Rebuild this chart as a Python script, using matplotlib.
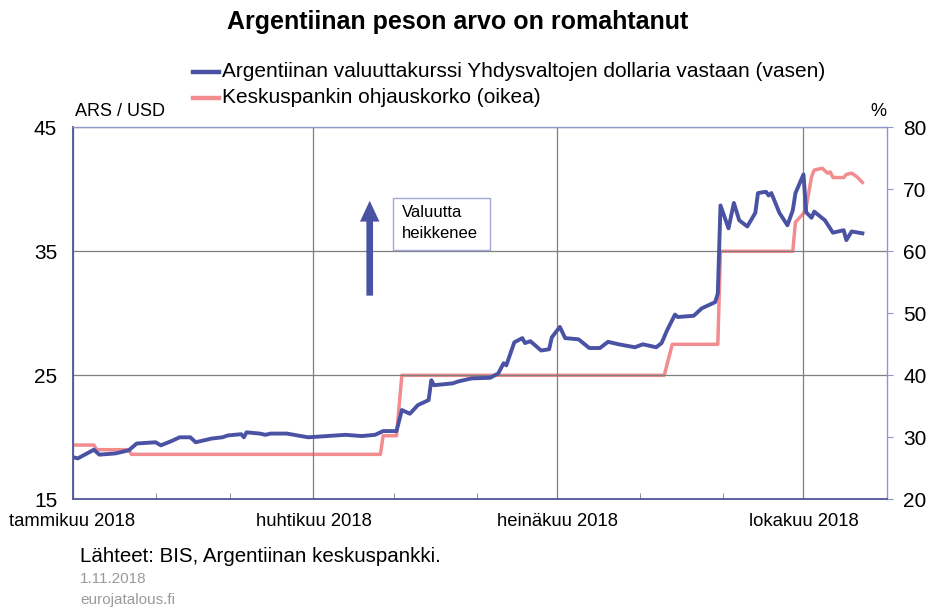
import matplotlib
matplotlib.use("Agg")
import matplotlib.pyplot as plt
import matplotlib.dates as mdates
from matplotlib.patches import Rectangle
from matplotlib.lines import Line2D
import pandas as pd

plt.rcParams['font.family'] = ['Liberation Sans', 'DejaVu Sans']

# ---- data ----
fx_dates = ["2018-01-01", "2018-01-03", "2018-01-09", "2018-01-11", "2018-01-17", "2018-01-22",
            "2018-01-25", "2018-02-01", "2018-02-03", "2018-02-07", "2018-02-10", "2018-02-14",
            "2018-02-16", "2018-02-22", "2018-02-26", "2018-02-28", "2018-03-05", "2018-03-06",
            "2018-03-07", "2018-03-12", "2018-03-14", "2018-03-16", "2018-03-22", "2018-03-30",
            "2018-04-06", "2018-04-13", "2018-04-19", "2018-04-24", "2018-04-27", "2018-05-02",
            "2018-05-04", "2018-05-07", "2018-05-10", "2018-05-14", "2018-05-15", "2018-05-16",
            "2018-05-23", "2018-05-25", "2018-05-30", "2018-06-06", "2018-06-09", "2018-06-11",
            "2018-06-12", "2018-06-15", "2018-06-18", "2018-06-19", "2018-06-21", "2018-06-25",
            "2018-06-28", "2018-06-29", "2018-07-02", "2018-07-04", "2018-07-09", "2018-07-13",
            "2018-07-17", "2018-07-20", "2018-07-24", "2018-07-30", "2018-08-02", "2018-08-07",
            "2018-08-09", "2018-08-11", "2018-08-14", "2018-08-15", "2018-08-21", "2018-08-24",
            "2018-08-29", "2018-08-30", "2018-08-31", "2018-09-03", "2018-09-05", "2018-09-07",
            "2018-09-10", "2018-09-13", "2018-09-14", "2018-09-17", "2018-09-18", "2018-09-19",
            "2018-09-22", "2018-09-25", "2018-09-27", "2018-09-28", "2018-10-01", "2018-10-02",
            "2018-10-04", "2018-10-05", "2018-10-09", "2018-10-12", "2018-10-16", "2018-10-17",
            "2018-10-19", "2018-10-23"]
fx_values = [18.4, 18.3, 19.0, 18.6, 18.7, 18.95,
             19.5, 19.6, 19.35, 19.7, 20.0, 20.0,
             19.6, 19.9, 20.0, 20.15, 20.25, 20.0,
             20.4, 20.3, 20.2, 20.3, 20.3, 20.0,
             20.1, 20.2, 20.1, 20.2, 20.5, 20.5,
             22.2, 21.9, 22.6, 23.0, 24.6, 24.2,
             24.35, 24.5, 24.75, 24.8, 25.15, 25.97,
             25.8, 27.66, 28.0, 27.6, 27.75, 27.0,
             27.1, 28.06, 28.9, 28.0, 27.9, 27.2,
             27.2, 27.7, 27.5, 27.26, 27.5, 27.26,
             27.6, 28.6, 29.9, 29.7, 29.8, 30.4,
             30.9, 31.6, 38.7, 36.85, 38.9, 37.5,
             37.0, 38.1, 39.7, 39.8, 39.5, 39.7,
             38.1, 37.1, 38.3, 39.7, 41.2, 38.15,
             37.7, 38.2, 37.5, 36.5, 36.7, 35.9,
             36.6, 36.45]

rate_dates = ["2018-01-01", "2018-01-09", "2018-01-10", "2018-01-22", "2018-01-23",
              "2018-04-26", "2018-04-27", "2018-05-02", "2018-05-04", "2018-08-10",
              "2018-08-13", "2018-08-30", "2018-08-31", "2018-09-27", "2018-09-28",
              "2018-10-01", "2018-10-02", "2018-10-04", "2018-10-05", "2018-10-08",
              "2018-10-10", "2018-10-11", "2018-10-12", "2018-10-16", "2018-10-17",
              "2018-10-19", "2018-10-21", "2018-10-23"]
rate_values = [28.75, 28.75, 28.0, 28.0, 27.25,
               27.25, 30.25, 30.25, 40.0, 40.0,
               45.0, 45.0, 60.0, 60.0, 64.7,
               66.1, 67.1, 72.0, 73.1, 73.4,
               72.6, 72.8, 71.9, 71.9, 72.4,
               72.6, 72.0, 71.1]

xtick_dates = ["2018-01-01", "2018-04-01", "2018-07-01", "2018-10-01"]
xtick_labels = ["tammikuu 2018", "huhtikuu 2018", "heinäkuu 2018", "lokakuu 2018"]
series_labels = ["Argentiinan valuuttakurssi Yhdysvaltojen dollaria vastaan (vasen)",
                 "Keskuspankin ohjauskorko (oikea)"]
title = "Argentiinan peson arvo on romahtanut"

BLUE = "#4a52a3"
PINK = "#f28c8f"

fx_d = pd.to_datetime(fx_dates)
rate_d = pd.to_datetime(rate_dates)

fig = plt.figure(figsize=(9.33, 6.08), dpi=100)
W, H = 933, 608
ax = fig.add_axes([72.5 / W, 1 - 499.3 / H, (886.5 - 72.5) / W, (499.3 - 127.3) / H])
ax2 = ax.twinx()
ax.set_zorder(ax2.get_zorder() + 1)
ax.patch.set_visible(False)

ax2.plot(rate_d, rate_values, color=PINK, lw=2.5, solid_joinstyle='round')
ax.plot(fx_d, fx_values, color=BLUE, lw=2.8, solid_joinstyle='round')

ax.set_xlim(pd.Timestamp("2018-01-01"), pd.Timestamp("2018-11-01"))
ax.set_ylim(15, 45)
ax2.set_ylim(20, 80)
ax.set_yticks([15, 25, 35, 45])
ax2.set_yticks([20, 30, 40, 50, 60, 70, 80])

ax.set_xticks(pd.to_datetime(xtick_dates))
ax.set_xticklabels(xtick_labels, fontsize=13.3)
ax.xaxis.set_minor_locator(mdates.MonthLocator())
ax.tick_params(axis='x', which='major', length=0, pad=10)
ax.tick_params(axis='x', which='minor', direction='in', length=4, color='#7a7a7a')
ax.tick_params(axis='y', length=0, pad=11, labelsize=15)
ax2.tick_params(axis='y', direction='out', length=4, pad=8, labelsize=15, color='#9096c8')

ax.grid(True, which='major', color='#7f7f7f', lw=0.9)
ax.set_axisbelow(True)

for sp in ('left', 'bottom'):
    ax.spines[sp].set_color('#50559a'); ax.spines[sp].set_linewidth(1.3)
for sp in ('top', 'right'):
    ax.spines[sp].set_color('#9096c8'); ax.spines[sp].set_linewidth(1.0)
for sp in ax2.spines.values():
    sp.set_visible(False)

# arrow and note
arrow_x = pd.Timestamp("2018-04-22")
ax.annotate('', xy=(arrow_x, 39.3), xytext=(arrow_x, 31.2),
            arrowprops=dict(arrowstyle='simple,head_length=0.75,head_width=0.7,tail_width=0.24',
                            mutation_scale=20, color=BLUE, lw=0))
ax.add_patch(Rectangle((0.394, 0.670), 0.119, 0.14, transform=ax.transAxes,
                       facecolor='white', edgecolor='#a3a7d6', lw=1.0, zorder=5))
ax.text(0.405, 0.791, "Valuutta\nheikkenee", transform=ax.transAxes, fontsize=12,
        va='top', ha='left', linespacing=1.5, zorder=6)

# titles and labels
fig.text(458 / W, 1 - 22 / H, title, ha='center', va='center', fontsize=18, fontweight='bold')
fig.text(75 / W, 1 - 112 / H, "ARS / USD", ha='left', va='center', fontsize=13)
fig.text(878 / W, 1 - 112 / H, "%", ha='center', va='center', fontsize=13)

# legend (manual)
for i, (lab, col) in enumerate(zip(series_labels, [BLUE, PINK])):
    yc = 1 - (71.5 + 26 * i) / H
    fig.add_artist(Line2D([193 / W, 219 / W], [yc, yc], color=col, lw=3.2,
                          transform=fig.transFigure))
    fig.text(222 / W, yc, lab, ha='left', va='center', fontsize=15)

fig.text(80 / W, 1 - 557 / H, "Lähteet: BIS, Argentiinan keskuspankki.", ha='left',
         va='center', fontsize=14.8)
fig.text(80 / W, 1 - 579 / H, "1.11.2018", ha='left', va='center', fontsize=11, color='#9a9a9a')
fig.text(80 / W, 1 - 600 / H, "eurojatalous.fi", ha='left', va='center', fontsize=11, color='#9a9a9a')

fig.savefig("out.png", dpi=100)
